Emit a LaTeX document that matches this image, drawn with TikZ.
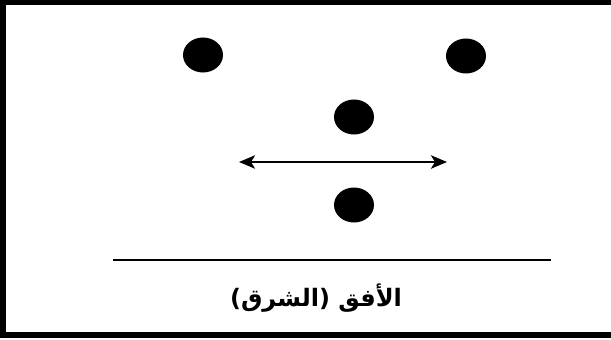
\documentclass[tikz,border=0pt]{standalone}
\usepackage{fontspec}
\newfontfamily\arabicfont[Script=Arabic]{DejaVu Sans}
\TeXXeTstate=1
\usetikzlibrary{arrows.meta, shapes.geometric}
\tikzset{
  dot/.style   = {ellipse, fill=black, draw=none, inner sep=0pt,
                  minimum width=1.2cm, minimum height=1.05cm},
  frame/.style = {line width=4.5pt, draw=black},
  arrow/.style = {{Stealth[length=4.8mm,width=4mm,inset=1.2mm]}-{Stealth[length=4.8mm,width=4mm,inset=1.2mm]}, line width=2pt},
  horizon/.style = {line width=2pt},
  label/.style = {font=\arabicfont\bfseries\fontsize{20.5}{24}\selectfont, inner sep=0pt},
}
\begin{document}
\begin{tikzpicture}[x=0.03cm, y=-0.03cm]
  \useasboundingbox (0,0) rectangle (611,340);
  % ---- frame ----
  \draw[frame] (3,2) rectangle (640,335);

  % ---- dots ----
  \node[dot] (dl) at (203,55)  {};
  \node[dot] (dr) at (466,56)  {};
  \node[dot] (dm) at (354,117) {};
  \node[dot] (db) at (354,205) {};

  % ---- double arrow ----
  \coordinate (al) at (239,162);
  \coordinate (ar) at (447,162);
  \draw[arrow] (al) -- (ar);

  % ---- horizon ----
  \coordinate (hl) at (113,260);
  \coordinate (hr) at (551,260);
  \draw[horizon] (hl) -- (hr);

  \node[label] (hz) at (316,298) {\beginR الأفق (الشرق)\endR};
\end{tikzpicture}
\end{document}
